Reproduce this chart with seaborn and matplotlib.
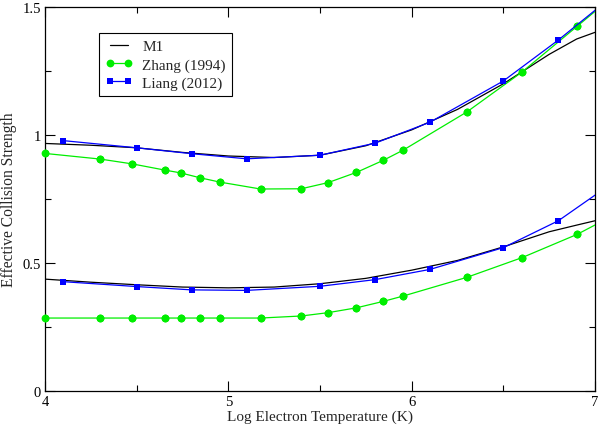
import numpy as np
import pandas as pd
import matplotlib
matplotlib.use("Agg")
import matplotlib.pyplot as plt
import seaborn as sns
from matplotlib.ticker import MultipleLocator, FuncFormatter

# ---- data ----
m1_x = [4.0, 4.25, 4.5, 4.75, 5.0, 5.25, 5.5, 5.75, 6.0, 6.25, 6.5, 6.75, 6.9, 7.0]
m1_upper = [0.967, 0.960, 0.950, 0.932, 0.918, 0.912, 0.921, 0.958, 1.020, 1.100, 1.200, 1.315, 1.375, 1.401]
m1_lower = [0.437, 0.425, 0.415, 0.406, 0.403, 0.406, 0.419, 0.440, 0.472, 0.510, 0.563, 0.622, 0.648, 0.665]

zhang_x = [4.000, 4.301, 4.477, 4.653, 4.740, 4.845, 4.954, 5.176, 5.398, 5.544,
           5.699, 5.845, 5.954, 6.301, 6.602, 6.903, 7.204]
zhang_upper = [0.928, 0.906, 0.887, 0.863, 0.852, 0.833, 0.816, 0.789, 0.790, 0.814,
               0.854, 0.901, 0.941, 1.090, 1.246, 1.425, 1.604]
zhang_lower = [0.285, 0.285, 0.285, 0.285, 0.285, 0.285, 0.285, 0.285, 0.293, 0.306,
               0.325, 0.350, 0.371, 0.444, 0.521, 0.612, 0.725]

liang_x = [4.1, 4.5, 4.8, 5.1, 5.5, 5.8, 6.1, 6.5, 6.8, 7.1]
liang_upper = [0.978, 0.950, 0.927, 0.907, 0.921, 0.968, 1.050, 1.211, 1.371, 1.545]
liang_lower = [0.427, 0.408, 0.395, 0.393, 0.409, 0.435, 0.475, 0.560, 0.665, 0.815]

labels = ["M1", "Zhang (1994)", "Liang (2012)"]

# ---- style ----
sns.set_style("ticks")
plt.rcParams["font.family"] = ["Liberation Serif", "DejaVu Serif"]

fig = plt.figure(figsize=(6.0, 4.31), dpi=100)
ax = fig.add_axes([45/600, 1-392/431, 550/600, 384/431])

lw = 0.9
green = "#00ee00"
blue = "#0000ff"
XMIN, XMAX = 4, 7

sns.lineplot(x=m1_x, y=m1_upper, ax=ax, color="black", lw=lw, label=labels[0], zorder=2)
sns.lineplot(x=m1_x, y=m1_lower, ax=ax, color="black", lw=lw, zorder=2)

series = [
    (zhang_x, zhang_upper, green, "o", 5.6, labels[1]),
    (zhang_x, zhang_lower, green, "o", 5.6, None),
    (liang_x, liang_upper, blue, "s", 4.6, labels[2]),
    (liang_x, liang_lower, blue, "s", 4.6, None),
]
for i, (xs, ys, col, mk, ms, lab) in enumerate(series):
    z = 3 if col == green else 4
    sns.lineplot(x=xs, y=ys, ax=ax, color=col, lw=lw, marker=mk, markersize=ms,
                 markeredgewidth=0, label=lab, zorder=z)
    # markers inside the axis range are drawn unclipped (as in the original)
    df = pd.DataFrame({"x": xs, "y": ys})
    df = df[(df.x >= XMIN) & (df.x <= XMAX)]
    sns.scatterplot(data=df, x="x", y="y", ax=ax, color=col, marker=mk,
                    s=(ms) ** 2, linewidth=0, zorder=z, clip_on=False, legend=False)

ax.set_xlim(XMIN, XMAX)
ax.set_ylim(0, 1.5)
ax.xaxis.set_major_locator(MultipleLocator(1))
ax.xaxis.set_minor_locator(MultipleLocator(0.5))
ax.yaxis.set_major_locator(MultipleLocator(0.5))
ax.yaxis.set_minor_locator(MultipleLocator(0.25))
ax.xaxis.set_major_formatter(FuncFormatter(lambda v, p: f"{v:g}"))
ax.yaxis.set_major_formatter(FuncFormatter(lambda v, p: f"{v:g}"))

ax.tick_params(which="both", direction="in", top=True, right=True, labelsize=10.5,
               width=0.8, colors="black")
ax.tick_params(which="major", length=7.2, pad=3)
ax.tick_params(which="minor", length=4.3)
for s in ax.spines.values():
    s.set_linewidth(0.9)
    s.set_color("black")

ax.set_xlabel("Log Electron Temperature (K)", fontsize=11, labelpad=1)
ax.set_ylabel("Effective Collision Strength", fontsize=11.2, labelpad=4)

leg = ax.legend(loc="upper left", bbox_to_anchor=((99.3-45)/550, (392-34.3)/384),
                borderaxespad=0, fancybox=False, framealpha=1, edgecolor="black",
                fontsize=11, handlelength=1.8, handletextpad=0.6, numpoints=2,
                borderpad=0.4, labelspacing=0.3)
leg.get_frame().set_linewidth(0.8)
leg.set_zorder(10)

fig.savefig("out.png", dpi=100)
